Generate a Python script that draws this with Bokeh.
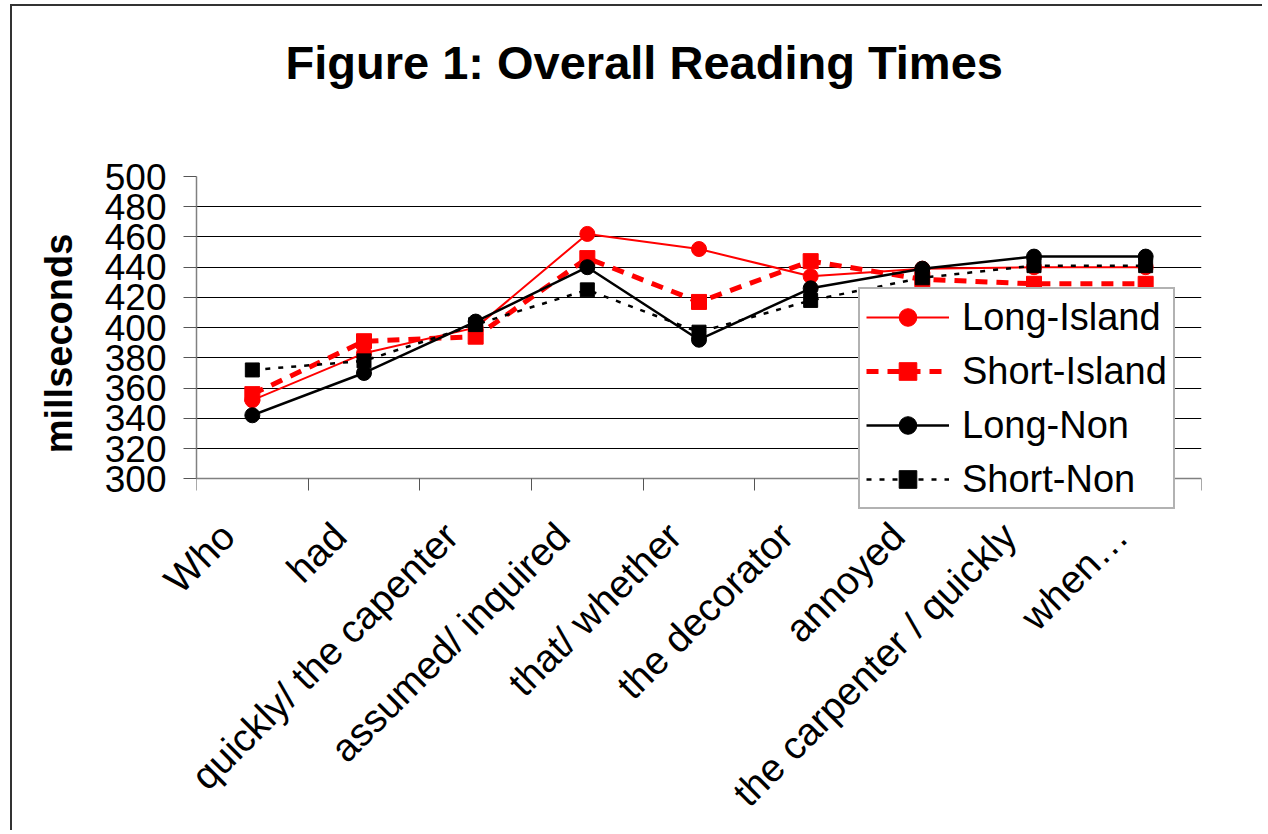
import math
from bokeh.plotting import figure
from bokeh.models import (ColumnDataSource, Range1d, LinearAxis, FixedTicker, Legend, LegendItem, Title)
from bokeh.embed import file_html
from bokeh.resources import INLINE

categories = ["Who", "had", "quickly/ the capenter", "assumed/ inquired", "that/ whether",
              "the decorator", "annoyed", "the carpenter / quickly", "when\u2026"]
long_island = [352, 383, 400, 462, 452, 434, 439, 440, 440]
short_island = [356, 391, 394, 446, 417, 444, 432, 429, 429]
long_non = [342, 370, 404, 440, 392, 426, 439, 447, 447]
short_non = [372, 378, 402, 425, 397, 418, 433, 441, 441]
y_ticks = [300, 320, 340, 360, 380, 400, 420, 440, 460, 480, 500]
title_text = "Figure 1: Overall Reading Times"

FONT = "Liberation Sans"

n = len(categories)
x_centers = [i + 0.5 for i in range(n)]
label_pos = [c - 0.22 for c in x_centers]
src = ColumnDataSource(dict(x=x_centers, cat=categories, li=long_island, si=short_island,
                            ln=long_non, sn=short_non))

p = figure(x_range=Range1d(0, n), y_range=Range1d(279, 500),
           width=1252, height=826, output_backend="svg", toolbar_location=None,
           x_axis_location=None, min_border_left=184, min_border_top=170,
           min_border_right=63, min_border_bottom=300)
p.title_location = None
p.styles = {"margin-left": "10px", "margin-top": "4px",
            "border-left": "2px solid #333333", "border-top": "2px solid #333333"}
p.outline_line_color = None
p.background_fill_color = "white"
p.border_fill_color = "white"

# title (with a spacer panel between it and the plot area)
spacer = Title(text=" ", text_font_size="1px", standoff=80)
main_title = Title(text=title_text, text_font=FONT, text_font_size="47px",
                   text_font_style="bold", text_color="black", align="left",
                   offset=89, standoff=10)
p.add_layout(spacer, "above")
p.add_layout(main_title, "above")

# y axis
ya = p.yaxis[0]
ya.ticker = FixedTicker(ticks=y_ticks)
ya.bounds = (300, 500)
ya.major_tick_out = 13
ya.major_tick_in = 0
ya.minor_tick_line_color = None
ya.axis_line_color = "#808080"
ya.axis_line_width = 1.5
ya.major_tick_line_color = "#555555"
ya.major_label_text_font = FONT
ya.major_label_text_font_size = "37px"
ya.major_label_text_color = "black"
ya.major_label_standoff = 17
ya.axis_label = "millseconds"
ya.axis_label_text_font = FONT
ya.axis_label_text_font_size = "38px"
ya.axis_label_text_font_style = "bold"
ya.axis_label_text_color = "black"
ya.axis_label_standoff = 22

p.ygrid.ticker = FixedTicker(ticks=y_ticks[1:-1])
p.ygrid.grid_line_color = "black"
p.ygrid.grid_line_width = 1
p.xgrid.visible = False

# x axes: boundary ticks drawn at y=300 + category labels
tick_axis = LinearAxis(ticker=FixedTicker(ticks=list(range(n + 1))), fixed_location=300,
                       major_label_text_font_size="1px", major_label_text_alpha=0,
                       major_label_standoff=0, major_tick_out=12, major_tick_in=0,
                       minor_tick_line_color=None, axis_line_color="#808080", axis_line_width=1.5,
                       major_tick_line_color="#555555")
cat_axis = LinearAxis(ticker=FixedTicker(ticks=label_pos),
                      major_label_overrides={x: c for x, c in zip(label_pos, categories)},
                      axis_line_color=None, major_tick_line_color=None,
                      minor_tick_line_color=None,
                      major_label_orientation=math.pi / 4,
                      major_label_text_font=FONT, major_label_text_font_size="39px",
                      major_label_text_color="black", major_label_standoff=13)
p.add_layout(tick_axis, "below")
p.add_layout(cat_axis, "below")

# series
RED = "#FF0000"
r1l = p.line("x", "li", source=src, line_color=RED, line_width=2)
r1m = p.scatter("x", "li", source=src, marker="circle", size=15, color=RED)
r2l = p.line("x", "si", source=src, line_color=RED, line_width=5, line_dash="12 9")
r2m = p.scatter("x", "si", source=src, marker="square", size=15, color=RED)
r3l = p.line("x", "ln", source=src, line_color="black", line_width=2.5)
r3m = p.scatter("x", "ln", source=src, marker="circle", size=15, color="black")
r4l = p.line("x", "sn", source=src, line_color="black", line_width=2.5, line_dash="5 8")
r4m = p.scatter("x", "sn", source=src, marker="square", size=14, color="black")

legend = Legend(items=[
    LegendItem(label="Long-Island", renderers=[r1l, r1m]),
    LegendItem(label="Short-Island", renderers=[r2l, r2m]),
    LegendItem(label="Long-Non", renderers=[r3l, r3m]),
    LegendItem(label="Short-Non", renderers=[r4l, r4m]),
], location=(662, 1))
legend.label_text_font = FONT
legend.label_text_font_size = "38px"
legend.label_text_color = "black"
legend.glyph_width = 83
legend.glyph_height = 44
legend.label_height = 44
legend.spacing = 10
legend.padding = 6
legend.margin = 0
legend.label_standoff = 13
legend.border_line_color = "#666666"
legend.border_line_width = 2
legend.background_fill_color = "white"
legend.background_fill_alpha = 1
p.add_layout(legend)

open("out.html", "w").write(file_html(p, INLINE))
